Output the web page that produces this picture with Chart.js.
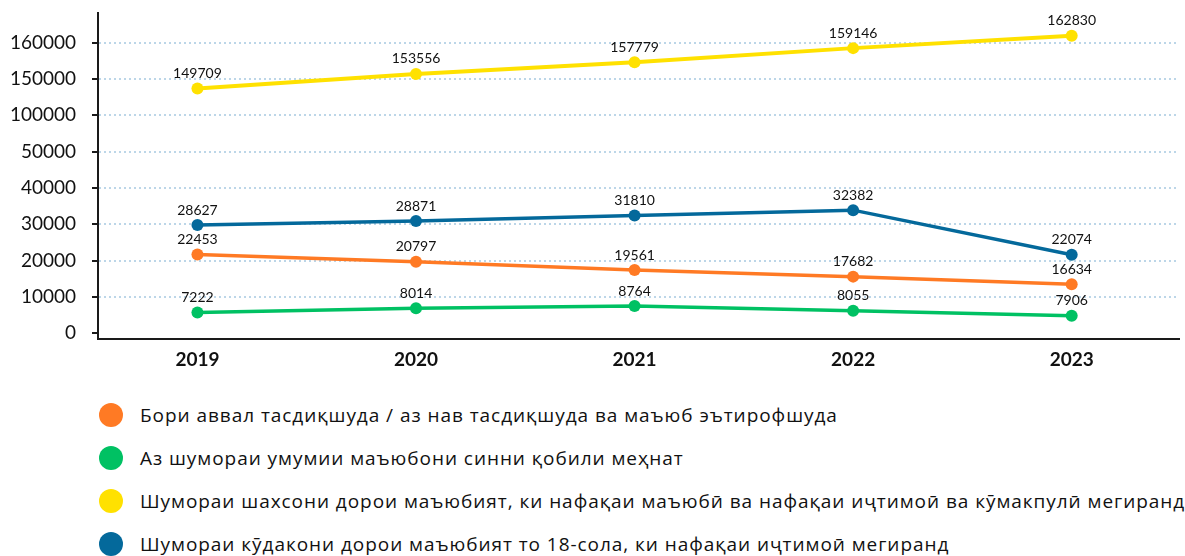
<!DOCTYPE html>
<html>
<head>
<meta charset="utf-8">
<script src="https://cdn.jsdelivr.net/npm/chart.js@4.4.1/dist/chart.umd.min.js"></script>
<style>
  html, body { margin: 0; padding: 0; background: #fff; }
  body { width: 1185px; height: 556px; overflow: hidden; position: relative; font-family: "Open Sans", Lato, sans-serif; }
  #wrap { position: absolute; left: 0; top: 0; width: 1185px; height: 380px; }
  #legend { position: absolute; left: 99px; top: 393px; white-space: nowrap; }
  .item { height: 43px; display: flex; align-items: center; font-size: 19px; letter-spacing: 0.95px; color: #111; }
  .dot { width: 24px; height: 24px; border-radius: 50%; margin-right: 17px; flex: none; }
</style>
</head>
<body>
<div id="wrap"><canvas id="LineChart"></canvas></div>
<div id="legend"></div>
<script>
(function () {
  "use strict";

  // Categories and axis labels
  const years = ['2019', '2020', '2021', '2022', '2023'];
  const y_tick_labels = ['0', '10000', '20000', '30000', '40000', '50000', '100000', '150000', '160000'];

  // Series names
  const series_names = [
    'Бори аввал тасдиқшуда / аз нав тасдиқшуда ва маъюб эътирофшуда',
    'Аз шумораи умумии маъюбони синни қобили меҳнат',
    'Шумораи шахсони дорои маъюбият, ки нафақаи маъюбӣ ва нафақаи иҷтимоӣ ва кӯмакпулӣ мегиранд',
    'Шумораи кӯдакони дорои маъюбият то 18-сола, ки нафақаи иҷтимоӣ мегиранд'
  ];

  // Values shown on the labels
  const values_first = [22453, 20797, 19561, 17682, 16634];
  const values_working = [7222, 8014, 8764, 8055, 7906];
  const values_persons = [149709, 153556, 157779, 159146, 162830];
  const values_children = [28627, 28871, 31810, 32382, 22074];

  const level_first = [2.17, 1.97, 1.74, 1.56, 1.35];
  const level_working = [0.57, 0.69, 0.75, 0.62, 0.48];
  const level_persons = [6.74, 7.14, 7.46, 7.85, 8.19];
  const level_children = [2.98, 3.09, 3.24, 3.39, 2.16];

  // Colors
  const c_orange = '#FF7A24';
  const c_green  = '#00C163';
  const c_yellow = '#FFE100';
  const c_blue   = '#04699B';
  const c_grid   = '#BCD6E8';
  const c_text   = '#111111';

  const font_family = 'Lato, "Open Sans", sans-serif';

  function makeSet(name, levels, values, color, width) {
    return {
      label: name,
      data: levels.map(function (v, i) { return { x: i, y: v }; }),
      shownValues: values,
      borderColor: color,
      backgroundColor: color,
      borderWidth: width,
      pointRadius: 6,
      pointHoverRadius: 6,
      pointBorderWidth: 0,
      pointBackgroundColor: color,
      tension: 0
    };
  }

  const datasets = [
    makeSet(series_names[0], level_first, values_first, c_orange, 3.5),
    makeSet(series_names[1], level_working, values_working, c_green, 3.5),
    makeSet(series_names[2], level_persons, values_persons, c_yellow, 4),
    makeSet(series_names[3], level_children, values_children, c_blue, 3.5)
  ];

  // Value labels above each point
  const valueLabels = {
    id: 'valueLabels',
    afterDatasetsDraw: function (chart) {
      const ctx = chart.ctx;
      ctx.save();
      ctx.font = '14px ' + font_family;
      ctx.fillStyle = c_text;
      ctx.textAlign = 'center';
      ctx.textBaseline = 'middle';
      chart.data.datasets.forEach(function (ds, di) {
        const meta = chart.getDatasetMeta(di);
        meta.data.forEach(function (pt, i) {
          ctx.fillText(String(ds.shownValues[i]), pt.x, pt.y - 15);
        });
      });
      ctx.restore();
    }
  };

  const ctx = document.getElementById('LineChart').getContext('2d');
  new Chart(ctx, {
    type: 'line',
    data: { datasets: datasets },
    plugins: [valueLabels],
    options: {
      responsive: true,
      maintainAspectRatio: false,
      animation: false,
      layout: { padding: { top: 13, left: 0, right: 0, bottom: 0 } },
      plugins: {
        legend: { display: false },
        tooltip: { enabled: false }
      },
      scales: {
        x: {
          type: 'linear',
          min: -0.455,
          max: 4.491,
          afterBuildTicks: function (scale) {
            scale.ticks = years.map(function (_, i) { return { value: i }; });
          },
          afterFit: function (scale) {
            scale.height = 41;
            scale.paddingLeft = 0;
            scale.paddingRight = 0;
          },
          grid: { display: false, drawTicks: false },
          border: { display: true, color: '#1a1a1a', width: 2 },
          ticks: {
            padding: 9,
            color: c_text,
            font: { family: font_family, size: 19, weight: 'bold' },
            callback: function (v) { return years[v]; }
          }
        },
        y: {
          type: 'linear',
          min: -0.157,
          max: 8.817,
          afterBuildTicks: function (scale) {
            scale.ticks = y_tick_labels.map(function (_, i) { return { value: i }; });
          },
          afterFit: function (scale) {
            scale.width = 98;
            scale.paddingTop = 0;
            scale.paddingBottom = 0;
          },
          grid: {
            color: function (c) { return c.tick && c.tick.value === 0 ? 'rgba(0,0,0,0)' : c_grid; },
            lineWidth: 2,
            drawTicks: true,
            tickLength: 6,
            tickColor: '#1a1a1a',
            tickWidth: 2,
            tickBorderDash: []
          },
          // in v4 the dash of the grid lines lives under border
          border: { display: true, color: '#1a1a1a', width: 2, dash: [2, 3] },
          ticks: {
            padding: 16,
            color: c_text,
            font: { family: font_family, size: 19 },
            callback: function (v) { return y_tick_labels[v]; }
          }
        }
      }
    }
  });

  // HTML legend under the chart
  const legend_colors = [c_orange, c_green, c_yellow, c_blue];
  const legend = document.getElementById('legend');
  series_names.forEach(function (name, i) {
    const row = document.createElement('div');
    row.className = 'item';
    const dot = document.createElement('span');
    dot.className = 'dot';
    dot.style.background = legend_colors[i];
    const txt = document.createElement('span');
    txt.textContent = name;
    row.appendChild(dot);
    row.appendChild(txt);
    legend.appendChild(row);
  });
})();
</script>
</body>
</html>
